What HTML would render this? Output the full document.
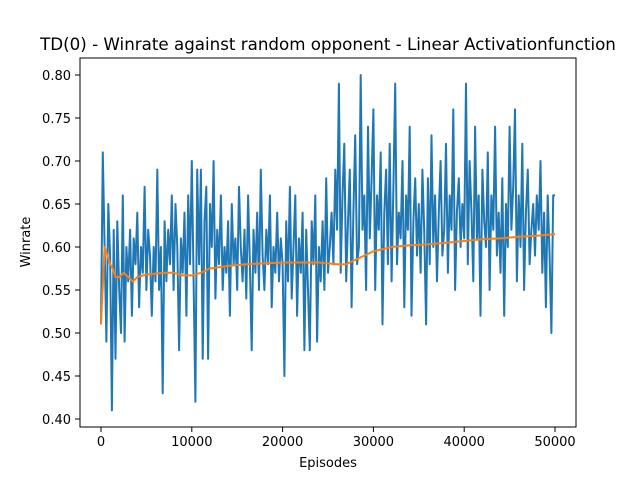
<!DOCTYPE html>
<html><head><meta charset="utf-8"><style>
body{margin:0;background:#fff;}
svg text{font-family:"DejaVu Sans","Liberation Sans",sans-serif;fill:#000;}
</style></head><body>
<svg width="640" height="480" id="c">
<rect x="0" y="0" width="640" height="480" fill="#fff"/>
<text x="328" y="50" font-size="16.7" text-anchor="middle">TD(0) - Winrate against random opponent - Linear Activationfunction</text>
<text x="328" y="467" font-size="13" text-anchor="middle">Episodes</text>
<text x="30" y="242" font-size="13" text-anchor="middle" transform="rotate(-90 30 242)">Winrate</text>
<g id="ticks"></g>
<g id="series"></g>
<rect x="80" y="58" width="496" height="369" fill="none" stroke="#000" stroke-width="1"/>
</svg>
<script>
const winrate = [0.51,0.71,0.60,0.49,0.65,0.59,0.41,0.62,0.47,0.63,0.55,0.50,0.66,0.49,0.60,0.56,0.62,0.52,0.61,0.58,
0.64,0.53,0.60,0.57,0.67,0.55,0.62,0.59,0.52,0.60,0.56,0.69,0.55,0.60,0.43,0.63,0.56,0.62,0.58,0.66,
0.55,0.65,0.60,0.48,0.61,0.57,0.64,0.52,0.66,0.58,
0.70,0.56,0.42,0.69,0.58,0.69,0.47,0.63,0.67,0.47,0.65,0.60,0.70,0.54,0.62,0.58,0.66,0.55,0.60,0.57,
0.63,0.52,0.65,0.58,0.61,0.55,0.67,0.60,0.56,0.62,0.54,0.66,0.58,0.48,0.62,0.57,0.64,0.55,0.69,0.59,
0.55,0.62,0.58,0.66,0.53,0.60,0.57,0.64,0.56,0.61,
0.58,0.45,0.63,0.56,0.67,0.54,0.60,0.66,0.52,0.61,0.57,0.64,0.48,0.62,0.55,0.48,0.63,0.58,0.66,0.49,
0.60,0.56,0.63,0.55,0.68,0.57,0.60,0.64,0.58,0.69,0.62,0.79,0.57,0.66,0.72,0.56,0.63,0.69,0.53,0.64,
0.73,0.58,0.60,0.80,0.62,0.66,0.55,0.74,0.61,0.68,
0.76,0.55,0.66,0.62,0.71,0.51,0.64,0.69,0.58,0.72,0.56,0.67,0.79,0.58,0.64,0.61,0.70,0.53,0.66,0.62,
0.74,0.52,0.63,0.68,0.59,0.65,0.57,0.69,0.62,0.51,0.68,0.58,0.73,0.60,0.66,0.56,0.64,0.70,0.59,0.62,
0.72,0.57,0.66,0.62,0.76,0.55,0.64,0.68,0.60,0.65,
0.61,0.79,0.58,0.70,0.64,0.56,0.74,0.61,0.66,0.52,0.69,0.63,0.60,0.71,0.55,0.66,0.62,0.74,0.59,0.64,
0.57,0.68,0.52,0.65,0.60,0.74,0.62,0.67,0.76,0.56,0.66,0.60,0.72,0.55,0.64,0.69,0.58,0.62,0.65,0.59,
0.66,0.62,0.70,0.57,0.64,0.53,0.66,0.59,0.50,0.66,0.66];
const winrateStep = 200;
const avgEpisodes = [0,400,700,1000,1300,1600,2000,2500,3000,3500,4000,5000,7000,8000,9000,10000,11000,12000,14000,16000,20000,24000,26000,27000,28000,29000,30000,32000,34000,36000,38000,40000,42000,44000,46000,48000,50000];
const avgValues = [0.51,0.60,0.59,0.58,0.575,0.565,0.565,0.57,0.565,0.56,0.565,0.568,0.57,0.57,0.567,0.567,0.57,0.575,0.578,0.58,0.582,0.582,0.58,0.58,0.585,0.59,0.595,0.60,0.602,0.603,0.605,0.607,0.609,0.61,0.612,0.613,0.615];
const xTicks = [0,10000,20000,30000,40000,50000];
const yTicks = [0.40,0.45,0.50,0.55,0.60,0.65,0.70,0.75,0.80];

const X = v => 101 + v * (454/50000);
const Y = v => 419 - (v - 0.40) * 860;
const NS = 'http://www.w3.org/2000/svg';
const tg = document.getElementById('ticks');
const sg = document.getElementById('series');

xTicks.forEach(t => {
  const l = document.createElementNS(NS,'line');
  l.setAttribute('x1',X(t)); l.setAttribute('x2',X(t)); l.setAttribute('y1',427); l.setAttribute('y2',432);
  l.setAttribute('stroke','#000');
  
  
  tg.appendChild(l);
  const tx = document.createElementNS(NS,'text');
  tx.setAttribute('x',X(t)); tx.setAttribute('y',446); tx.setAttribute('font-size','13'); tx.setAttribute('text-anchor','middle');
  tx.textContent = t;
  
  
  tg.appendChild(tx);
});
yTicks.forEach(t => {
  const l = document.createElementNS(NS,'line');
  l.setAttribute('x1',75); l.setAttribute('x2',80); l.setAttribute('y1',Y(t)); l.setAttribute('y2',Y(t));
  l.setAttribute('stroke','#000');
  
  
  tg.appendChild(l);
  const tx = document.createElementNS(NS,'text');
  tx.setAttribute('x',71); tx.setAttribute('y',Y(t)+5); tx.setAttribute('font-size','13'); tx.setAttribute('text-anchor','end');
  tx.textContent = t.toFixed(2);
  
  
  tg.appendChild(tx);
});

const bp = document.createElementNS(NS,'polyline');
bp.setAttribute('points', winrate.map((v,i)=>X(i*winrateStep).toFixed(1)+','+Y(v).toFixed(1)).join(' '));
bp.setAttribute('fill','none'); bp.setAttribute('stroke','#1f77b4'); bp.setAttribute('stroke-width','2'); bp.setAttribute('stroke-linejoin','round');


sg.appendChild(bp);

const op = document.createElementNS(NS,'polyline');
op.setAttribute('points', avgValues.map((v,i)=>X(avgEpisodes[i]).toFixed(1)+','+Y(v).toFixed(1)).join(' '));
op.setAttribute('fill','none'); op.setAttribute('stroke','#ff7f0e'); op.setAttribute('stroke-width','2'); op.setAttribute('stroke-linejoin','round');


sg.appendChild(op);
</script>
</body></html>
